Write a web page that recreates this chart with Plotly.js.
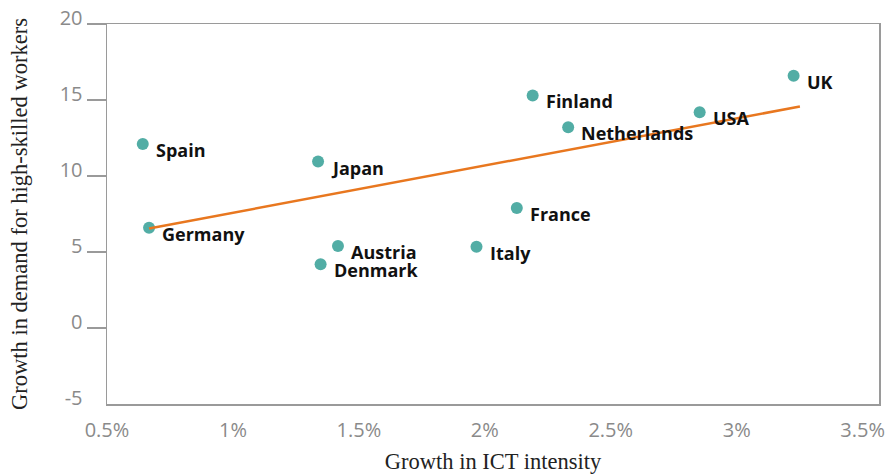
<!DOCTYPE html>
<html>
<head>
<meta charset="utf-8">
<script src="https://cdn.plot.ly/plotly-3.0.1.min.js"></script>
<style>
  html, body { margin: 0; padding: 0; background: #ffffff; }
  #chart { width: 885px; height: 474px; }
</style>
</head>
<body>
<div id="chart"></div>
<script>
// ---- data ----
const countries = ['Spain', 'Germany', 'Japan', 'Austria', 'Denmark', 'Italy', 'France', 'Finland', 'Netherlands', 'USA', 'UK'];
const ictGrowth = [0.642, 0.667, 1.338, 1.417, 1.348, 1.967, 2.127, 2.190, 2.331, 2.853, 3.226]; // % growth in ICT intensity
const demandGrowth = [12.1, 6.6, 10.95, 5.4, 4.2, 5.35, 7.9, 15.3, 13.2, 14.2, 16.6];           // growth in demand for high-skilled workers
const trendX = [0.667, 3.251];
const trendY = [6.55, 14.57];
const xTickVals = [0.5, 1, 1.5, 2, 2.5, 3, 3.5];
const xTickText = ['0.5%', '1%', '1.5%', '2%', '2.5%', '3%', '3.5%'];
const yTickVals = [-5, 0, 5, 10, 15, 20];
const yTickText = ['-5', '0', '5', '10', '15', '20'];
const yTickMarks = [0, 5, 10, 15, 20];

const teal = '#52ada5';
const orange = '#e8771f';
const axisGrey = '#9a9a9a';

const traces = [
  {
    type: 'scatter', mode: 'markers',
    x: ictGrowth, y: demandGrowth,
    marker: { color: teal, size: 12, line: { width: 0 } },
    hoverinfo: 'skip', showlegend: false
  },
  {
    type: 'scatter', mode: 'lines',
    x: trendX, y: trendY, yaxis: 'y2',
    line: { color: orange, width: 2.5 },
    hoverinfo: 'skip', showlegend: false
  }
];

const annotations = countries.map((c, i) => ({
  x: ictGrowth[i], y: demandGrowth[i], xref: 'x', yref: 'y',
  text: c, showarrow: false,
  xanchor: 'left', yanchor: 'middle',
  xshift: 11, yshift: -6,
  font: { family: 'Open Sans, sans-serif', size: 18, color: '#111111', weight: 'bold' }
}));

const layout = {
  width: 885, height: 474,
  margin: { l: 107, r: 6, t: 24, b: 70, pad: 0 },
  paper_bgcolor: '#ffffff', plot_bgcolor: '#ffffff',
  showlegend: false,
  xaxis: {
    range: [0.5, 3.565],
    tickmode: 'array', tickvals: xTickVals, ticktext: xTickText,
    ticks: '', showgrid: false, zeroline: false,
    showline: true, linecolor: axisGrey, linewidth: 1.5, mirror: true,
    ticklabelstandoff: 7,
    tickfont: { family: 'Open Sans, sans-serif', size: 20, color: '#8a8a8a' },
    title: { text: 'Growth in ICT intensity', standoff: 13,
             font: { family: 'Liberation Serif, serif', size: 22.5, color: '#222222' } }
  },
  yaxis: {
    range: [-5, 20],
    tickmode: 'array', tickvals: yTickVals, ticktext: yTickText,
    ticks: '', showgrid: false, zeroline: false,
    showline: true, linecolor: axisGrey, linewidth: 1.5, mirror: true,
    ticklabelstandoff: 19, ticklabelshift: -6,
    tickfont: { family: 'Open Sans, sans-serif', size: 20, color: '#8a8a8a' },
    title: { text: 'Growth in demand for high-skilled workers', standoff: 26,
             font: { family: 'Liberation Serif, serif', size: 22.5, color: '#222222' } }
  },
  yaxis2: {
    range: [-5, 20], overlaying: 'y', side: 'left', anchor: 'x',
    tickmode: 'array', tickvals: yTickMarks,
    ticks: 'outside', ticklen: 19, tickwidth: 1.5, tickcolor: axisGrey,
    showticklabels: false, showgrid: false, zeroline: false, showline: false
  },
  annotations: annotations
};

Plotly.newPlot('chart', traces, layout, { staticPlot: true, displayModeBar: false });
</script>
</body>
</html>
